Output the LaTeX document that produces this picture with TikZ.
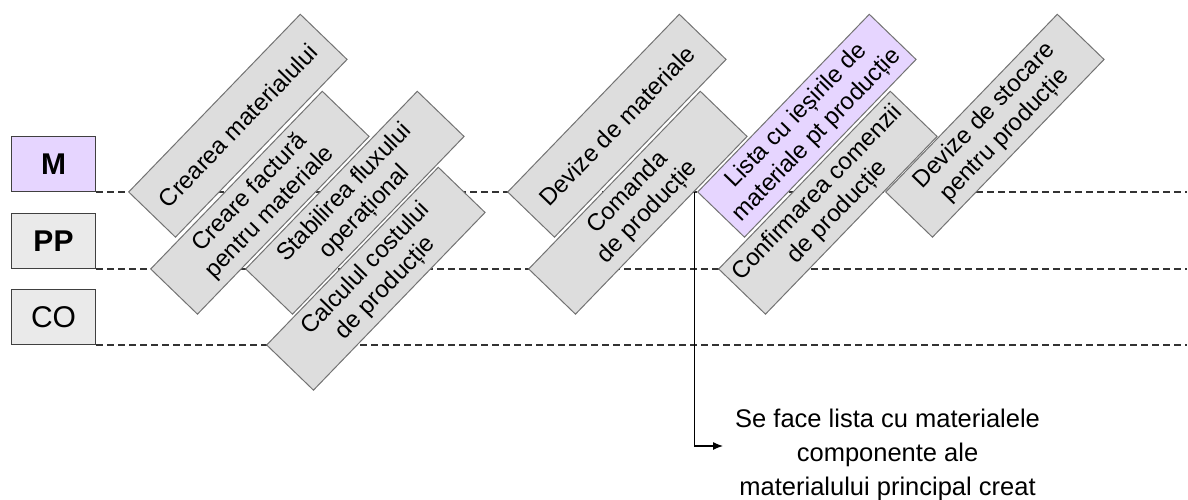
\documentclass[tikz,border=0pt]{standalone}
\usepackage{fontspec}
\setmainfont{Liberation Sans}
\usepackage{tikz}
\usetikzlibrary{arrows.meta}
\usetikzlibrary{calc}
\tikzset{>={Latex[length=10pt,width=8pt]}}
\definecolor{boxgray}{HTML}{DDDDDD}
\definecolor{lilac}{HTML}{E6D5FF}
\definecolor{lanegray}{HTML}{EAEAEA}
\tikzset{
  lane/.style={draw=black!75, line width=1pt, anchor=south west,
    minimum width=84pt, minimum height=55pt, inner sep=0pt,
    font=\fontsize{30}{30}\selectfont},
  laneline/.style={dash pattern=on 7pt off 4pt, line width=1.1pt, black!80},
  task/.style={draw=black!55, fill=boxgray, line width=1pt, rotate=46,
    anchor=north west, minimum width=247pt, minimum height=65pt,
    inner sep=2pt, align=center, font=\fontsize{24}{28}\selectfont},
  taskhi/.style={task, fill=lilac},
}

\begin{document}
\begin{tikzpicture}[x=1pt,y=-1pt]
\useasboundingbox (0,0) rectangle (1188,500);
    %lane labels
    \node[lane, fill=lilac] (m) at (11,192) {\bfseries M};
    \node[lane, fill=lanegray] (pp) at (11,269) {\bfseries PP};
    \node[lane, fill=lanegray] (co) at (11,345) {CO};
    %lane lines
    \draw[laneline] (m.south east) -- ++(1091,0);
    \draw[laneline] (pp.south east) -- ++(1091,0);
    \draw[laneline] (co.south east) -- ++(1091,0);
    %tasks
    \node[task] (b1) at (128,192) {Crearea materialului};
    \node[task] (b2) at (150,269) {Creare factură\\pentru materiale};
    \node[task] (b3) at (245,269) {Stabilirea fluxului\\operațional};
    \node[task] (b4) at (266,345) {Calculul costului\\de producție};
    \node[task] (b5) at (507,192) {Devize de materiale};
    \node[task] (b6) at (528,269) {Comanda\\de producție};
    \node[taskhi] (b7) at (697,192) {Lista cu ieșirile de\\materiale pt producție};
    \node[task] (b8) at (718,269) {Confirmarea comenzii\\de producție};
    \node[task] (b9) at (885,192) {Devize de stocare\\pentru producție};
    %note
    \node[anchor=west, align=center, inner sep=0pt,
      font=\fontsize{25.5}{34}\selectfont] (note) at (735,455)
      {Se face lista cu materialele\\componente ale\hspace*{1.6em}\\materialului principal creat};
    \coordinate (tip) at (723,446);
    \draw[->, line width=1.2pt] ($(b6.south west)!0.69!(b6.south east)$) |- (tip);
\end{tikzpicture}
\end{document}
